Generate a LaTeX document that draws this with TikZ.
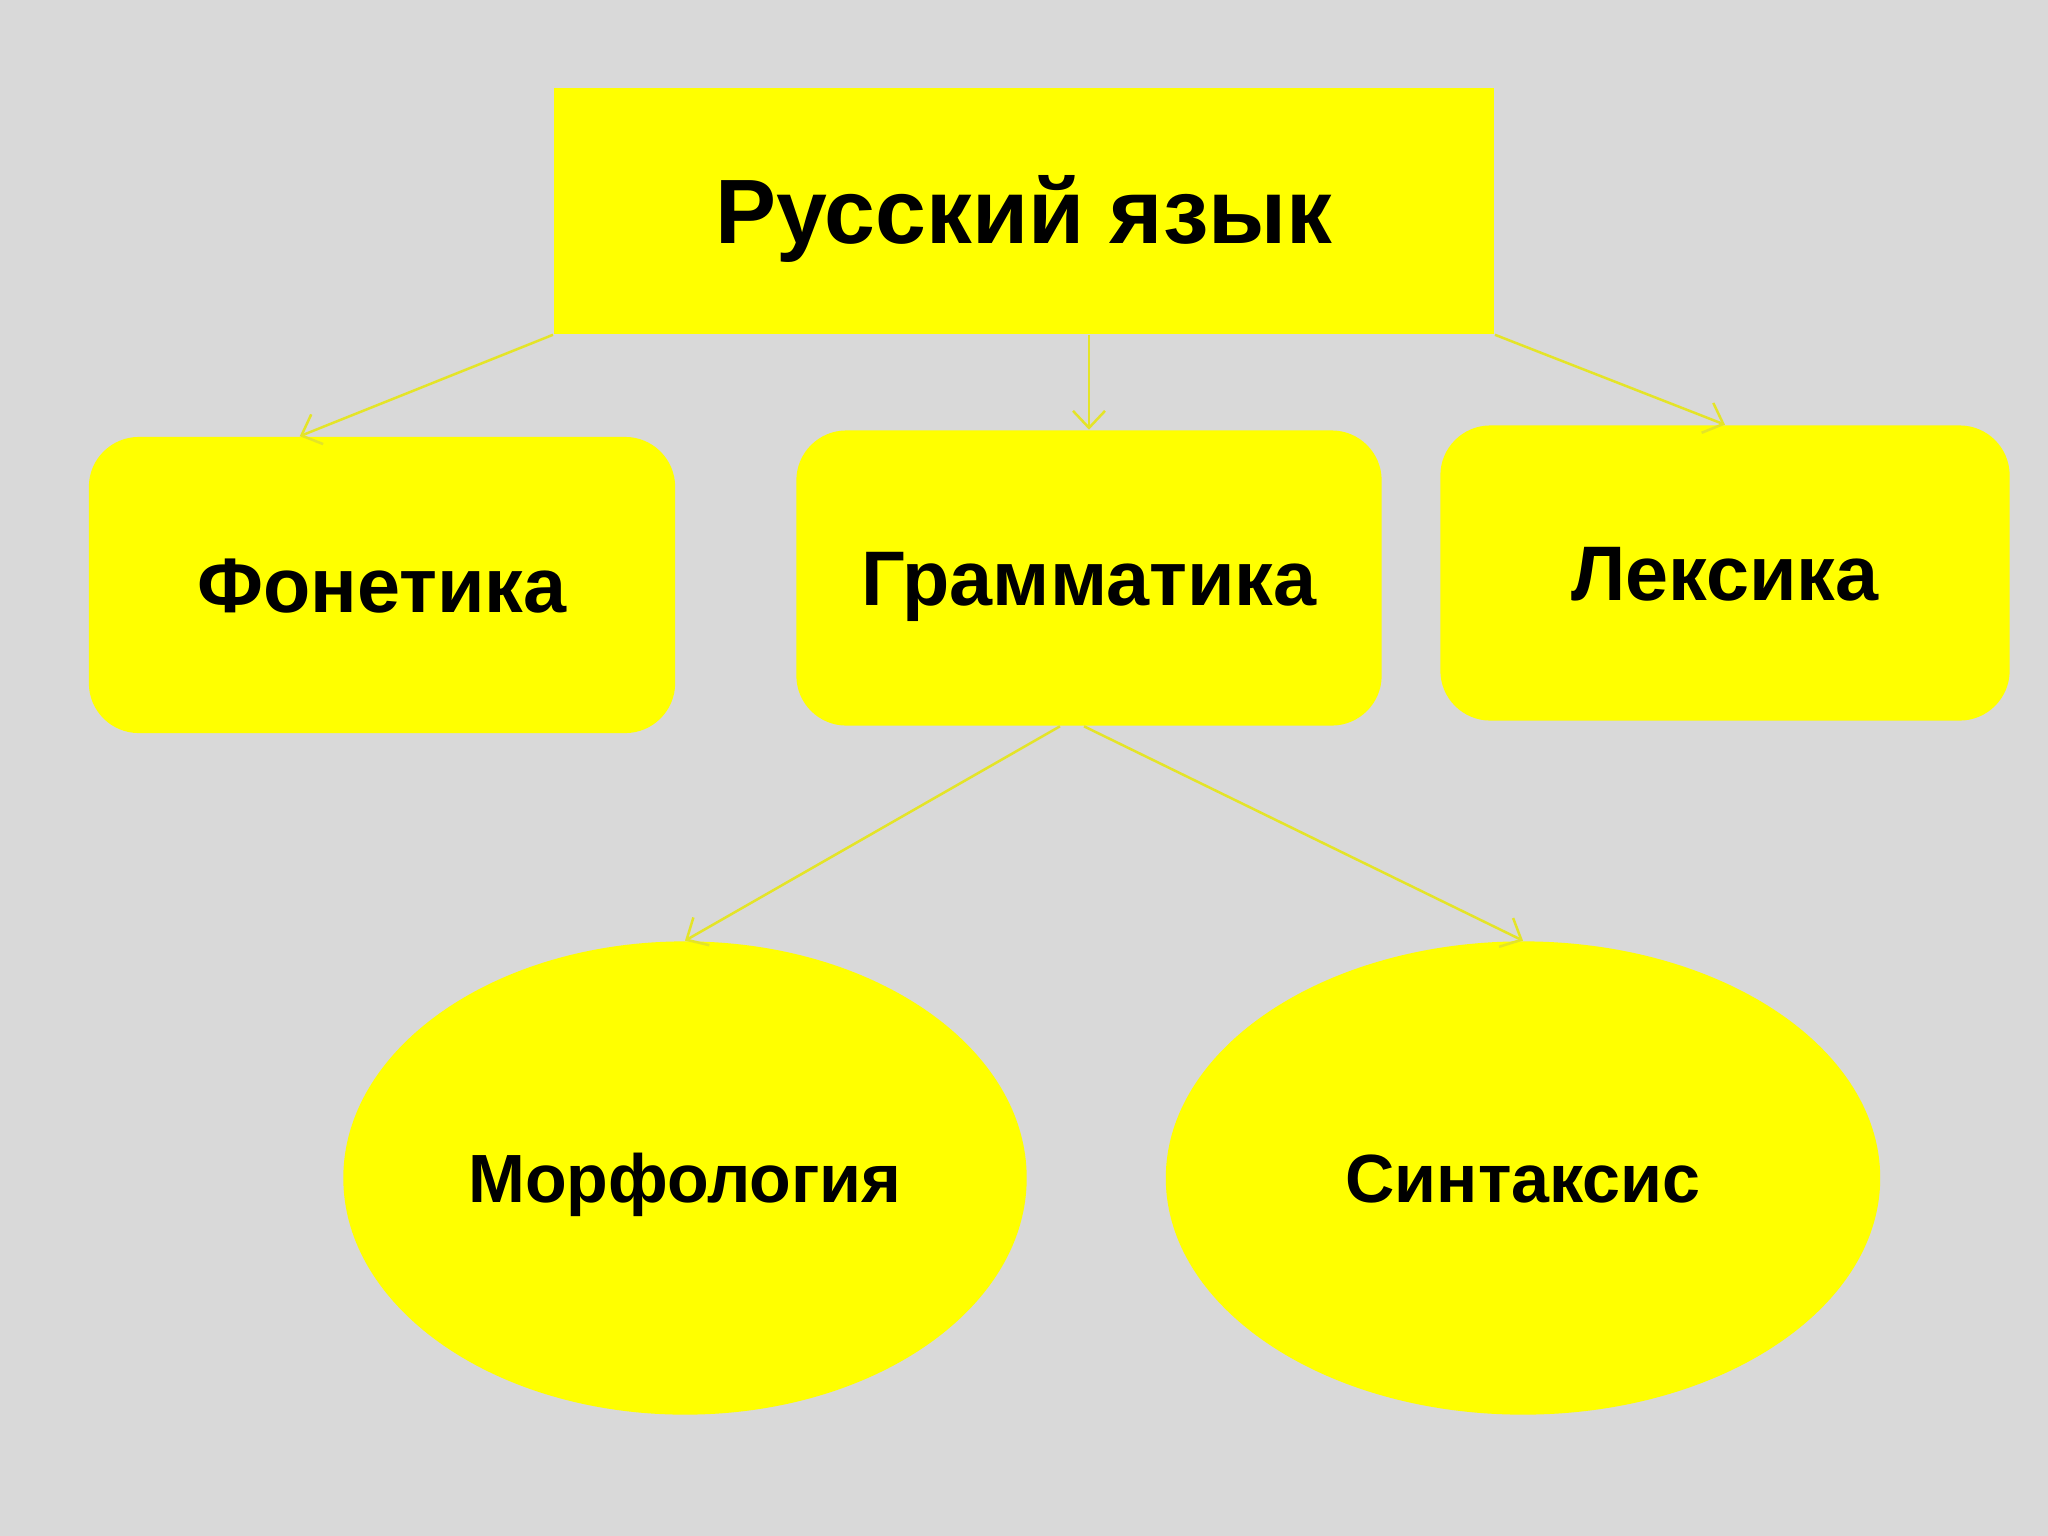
\documentclass[tikz,border=0pt]{standalone}
\usepackage{fontspec}
\setmainfont{Liberation Sans}
\usetikzlibrary{shapes.geometric}
\usetikzlibrary{arrows.meta}
\usetikzlibrary{calc}

\definecolor{bggray}{RGB}{217,217,217}
\definecolor{boxyellow}{RGB}{255,255,0}
\definecolor{lineyellow}{RGB}{228,228,40}

\begin{document}
\begin{tikzpicture}[x=0.01cm,y=-0.01cm]
  \fill[bggray] (0,0) rectangle (2048,1536);
  \useasboundingbox (0,0) rectangle (2048,1536);

  \node(lang)[rectangle, fill=boxyellow, minimum width=9.4cm, minimum height=2.46cm, inner sep=0pt, text height=18.6pt, text depth=0pt, font=\bfseries\fontsize{26}{30}\selectfont] at (1024,211) {Русский язык};

  \node(fon)[rectangle, rounded corners=0.5cm, fill=boxyellow, minimum width=5.86cm, minimum height=2.96cm, inner sep=0pt, text height=15.75pt, text depth=0pt, font=\bfseries\fontsize{22}{26}\selectfont] at (382,585) {Фонетика};
  \node(gram)[rectangle, rounded corners=0.5cm, fill=boxyellow, minimum width=5.85cm, minimum height=2.95cm, inner sep=0pt, text height=15.75pt, text depth=0pt, font=\bfseries\fontsize{22}{26}\selectfont] at (1089,578) {Грамматика};
  \node(lex)[rectangle, rounded corners=0.5cm, fill=boxyellow, minimum width=5.69cm, minimum height=2.95cm, inner sep=0pt, text height=15.75pt, text depth=0pt, font=\bfseries\fontsize{22}{26}\selectfont] at (1725,573) {Лексика};

  \node(morph)[ellipse, fill=boxyellow, minimum width=6.83cm, minimum height=4.73cm, inner sep=0pt, text height=13.9pt, text depth=0pt, font=\bfseries\fontsize{19.4}{23}\selectfont] at (685,1178) {Морфология};
  \node(synt)[ellipse, fill=boxyellow, minimum width=7.14cm, minimum height=4.73cm, inner sep=0pt, text height=13.9pt, text depth=0pt, font=\bfseries\fontsize{19.4}{23}\selectfont] at (1523,1178) {Синтаксис};

  \draw[lineyellow, line width=0.025cm, -{Straight Barb[length=0.17cm, width=0.32cm]}](lang.south west)--($(fon.north west)!0.36!(fon.north east)$);
  \draw[lineyellow, line width=0.025cm, -{Straight Barb[length=0.17cm, width=0.32cm]}](gram.north |- lang.south)--(gram.north);
  \draw[lineyellow, line width=0.025cm, -{Straight Barb[length=0.17cm, width=0.32cm]}](lang.south east)--(lex.north);

  \draw[lineyellow, line width=0.025cm, -{Straight Barb[length=0.17cm, width=0.32cm]}]([xshift=-0.29cm]gram.south)--(morph.north);
  \draw[lineyellow, line width=0.025cm, -{Straight Barb[length=0.17cm, width=0.32cm]}]([xshift=-0.05cm]gram.south)--(synt.north);

\end{tikzpicture}
\end{document}
